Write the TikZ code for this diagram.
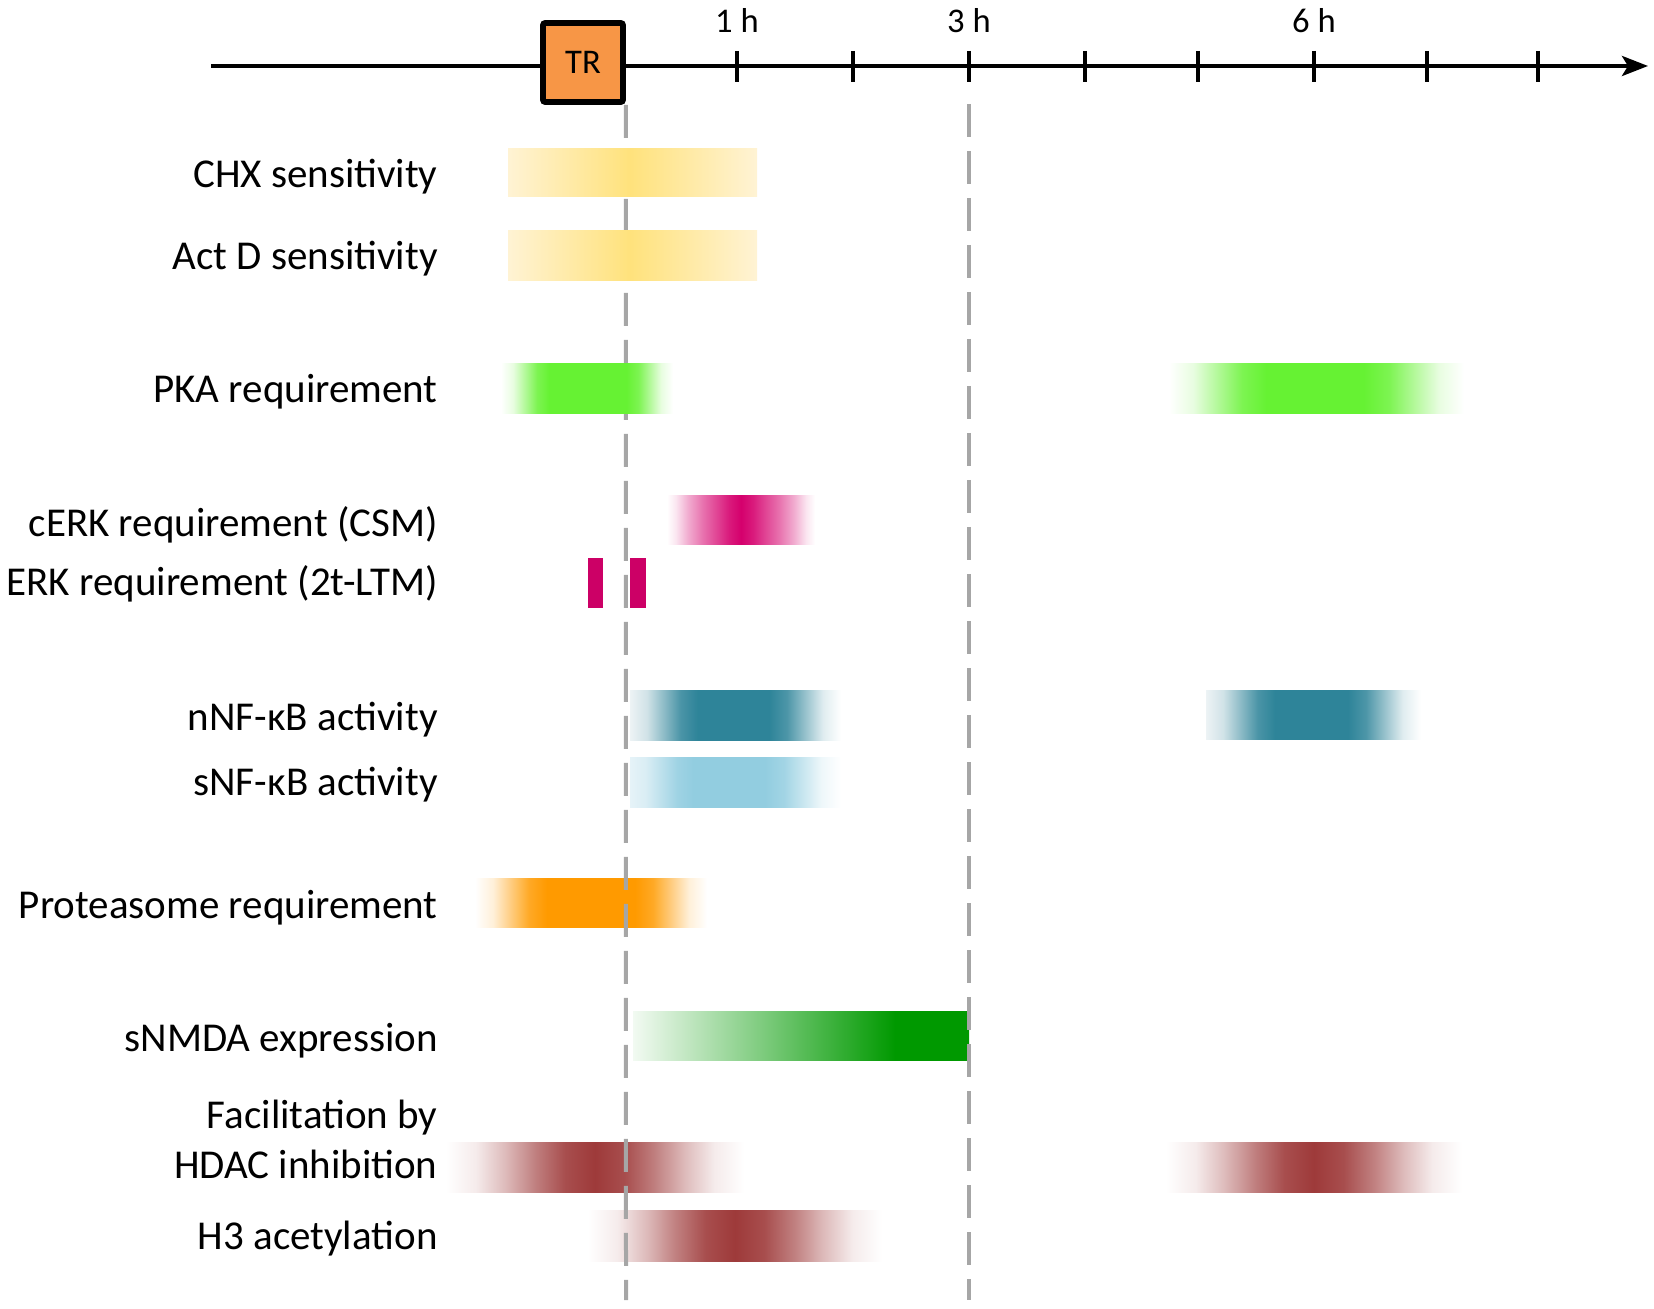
\documentclass[tikz,border=0pt]{standalone}
\usepackage{fontspec}
\setmainfont{Carlito}
\usetikzlibrary{arrows.meta}

\definecolor{chxE}{HTML}{FFF3D4}
\definecolor{chxC}{HTML}{FFE27C}
\definecolor{pkaG}{HTML}{66F233}
\definecolor{erkC}{HTML}{D5006D}
\definecolor{erkBar}{HTML}{CC0066}
\definecolor{nnfC}{HTML}{2E8499}
\definecolor{nnfE}{HTML}{EDF3F5}
\definecolor{snfC}{HTML}{92CDE0}
\definecolor{snfE}{HTML}{E6F3F8}
\definecolor{protC}{HTML}{FF9A00}
\definecolor{smC}{HTML}{009900}
\definecolor{smE}{HTML}{F2FAF2}
\definecolor{hdC}{HTML}{9E3A3A}
\definecolor{trFill}{HTML}{F79646}
\definecolor{dashGray}{HTML}{A6A6A6}

% intermediate mixes for smooth fades
\colorlet{pkaA}{pkaG!15!white}\colorlet{pkaB}{pkaG!50!white}\colorlet{pkaC}{pkaG!85!white}
\colorlet{prA}{protC!15!white}\colorlet{prB}{protC!50!white}\colorlet{prC}{protC!85!white}
\colorlet{nnA}{nnfC!15!nnfE}\colorlet{nnB}{nnfC!50!nnfE}\colorlet{nnC}{nnfC!85!nnfE}
\colorlet{nwA}{nnfC!15!white}\colorlet{nwB}{nnfC!50!white}\colorlet{nwC}{nnfC!85!white}
\colorlet{snA}{snfC!15!snfE}\colorlet{snB}{snfC!50!snfE}\colorlet{snC}{snfC!85!snfE}
\colorlet{swA}{snfC!15!white}\colorlet{swB}{snfC!50!white}\colorlet{swC}{snfC!85!white}
\colorlet{hdA}{hdC!10!white}\colorlet{hdB}{hdC!35!white}\colorlet{hdD}{hdC!65!white}\colorlet{hdE}{hdC!90!white}
\colorlet{ekA}{erkC!10!white}\colorlet{ekB}{erkC!32!white}\colorlet{ekD}{erkC!55!white}\colorlet{ekE}{erkC!74!white}\colorlet{ekF}{erkC!90!white}
\colorlet{smB}{smC!50!smE}

\pgfdeclarehorizontalshading{chxsh}{100bp}{color(0bp)=(chxE); color(25bp)=(chxE); color(49.5bp)=(chxC); color(75bp)=(chxE); color(100bp)=(chxE)}
\pgfdeclarehorizontalshading{pkalsh}{100bp}{color(0bp)=(white); color(25bp)=(white); color(28.5bp)=(pkaA); color(32bp)=(pkaB); color(35.5bp)=(pkaC); color(39bp)=(pkaG); color(61.5bp)=(pkaG); color(64.9bp)=(pkaC); color(68.25bp)=(pkaB); color(71.6bp)=(pkaA); color(75bp)=(white); color(100bp)=(white)}
\pgfdeclarehorizontalshading{pkarsh}{100bp}{color(0bp)=(white); color(25bp)=(white); color(29.1bp)=(pkaA); color(33.25bp)=(pkaB); color(37.4bp)=(pkaC); color(41.5bp)=(pkaG); color(58bp)=(pkaG); color(62.25bp)=(pkaC); color(66.5bp)=(pkaB); color(70.75bp)=(pkaA); color(75bp)=(white); color(100bp)=(white)}
\pgfdeclarehorizontalshading{cerksh}{100bp}{color(0bp)=(white); color(25bp)=(white); color(28bp)=(ekA); color(32bp)=(ekB); color(37bp)=(ekD); color(42bp)=(ekE); color(46bp)=(ekF); color(50bp)=(erkC); color(54bp)=(ekF); color(58bp)=(ekE); color(63bp)=(ekD); color(68bp)=(ekB); color(72bp)=(ekA); color(75bp)=(white); color(100bp)=(white)}
\pgfdeclarehorizontalshading{nnfsh}{100bp}{color(0bp)=(nnfE); color(25bp)=(nnfE); color(29bp)=(nnA); color(33bp)=(nnB); color(37bp)=(nnC); color(41bp)=(nnfC); color(58bp)=(nnfC); color(62.25bp)=(nwC); color(66.5bp)=(nwB); color(70.75bp)=(nwA); color(75bp)=(white); color(100bp)=(white)}
\pgfdeclarehorizontalshading{snfsh}{100bp}{color(0bp)=(snfE); color(25bp)=(snfE); color(28.75bp)=(snA); color(32.5bp)=(snB); color(36.25bp)=(snC); color(40bp)=(snfC); color(57bp)=(snfC); color(61.5bp)=(swC); color(66bp)=(swB); color(70.5bp)=(swA); color(75bp)=(white); color(100bp)=(white)}
\pgfdeclarehorizontalshading{protsh}{100bp}{color(0bp)=(white); color(25bp)=(white); color(28.9bp)=(prA); color(32.75bp)=(prB); color(36.6bp)=(prC); color(40.5bp)=(protC); color(59.5bp)=(protC); color(63.4bp)=(prC); color(67.25bp)=(prB); color(71.1bp)=(prA); color(75bp)=(white); color(100bp)=(white)}
\pgfdeclarehorizontalshading{smsh}{100bp}{color(0bp)=(smE); color(25bp)=(smE); color(45bp)=(smB); color(64bp)=(smC); color(75bp)=(smC); color(100bp)=(smC)}
\pgfdeclarehorizontalshading{hdsh}{100bp}{color(0bp)=(white); color(25bp)=(white); color(30bp)=(hdA); color(35bp)=(hdB); color(40bp)=(hdD); color(45bp)=(hdE); color(50bp)=(hdC); color(55bp)=(hdE); color(60bp)=(hdD); color(65bp)=(hdB); color(70bp)=(hdA); color(75bp)=(white); color(100bp)=(white)}

\begin{document}
\begin{tikzpicture}[x=0.5pt,y=-0.5pt,
  lab/.style={anchor=base east,inner sep=0pt,font=\fontsize{20.5pt}{24pt}\selectfont},
  hour/.style={anchor=base,inner sep=0pt,font=\fontsize{17.3pt}{20pt}\selectfont},
  axisline/.style={line width=2pt,-{Stealth[length=13pt,width=10pt,inset=3pt]}},
  tickmark/.style={line width=2pt},
  trbox/.style={draw=black,line width=2.8pt,fill=trFill,rounded corners=1pt,minimum width=40pt,minimum height=39.5pt,inner sep=0pt,font=\fontsize{17.3pt}{20pt}\selectfont},
  dashline/.style={draw=dashGray,line width=2pt,dash pattern=on 16.5pt off 7pt},
  erkrect/.style={fill=erkBar,draw=none}
]
\useasboundingbox (0,0) rectangle (1654,1309);

% time axis
\coordinate (axL) at (211,66);
\coordinate (axR) at (1648,66);
\draw[axisline] (axL) -- (axR);
\foreach \x in {737,853,969,1085,1198,1314,1427,1538}
  \draw[tickmark] (\x,51) -- (\x,82);
\node[trbox] (tr) at (583,62.5) {TR};
\node[hour] (h1) at (737,33) {1 h};
\node[hour] (h3) at (969,33) {3 h};
\node[hour] (h6) at (1314,33) {6 h};

% bars below the dashed lines' layer
\shade[shading=cerksh] (667,496) rectangle (815,545);
\fill[erkrect] (588,558) rectangle (603,608);
\fill[erkrect] (630,558) rectangle (646,608);
\shade[shading=nnfsh] (630,691) rectangle (841,741);
\shade[shading=nnfsh] (1206,691) rectangle (1421,740);
\shade[shading=snfsh] (630,757) rectangle (841,807);
\shade[shading=protsh] (475,878) rectangle (707,927);
\shade[shading=pkarsh] (1169,364) rectangle (1464,414);
\shade[shading=smsh] (633,1011) rectangle (969,1060);
\shade[shading=hdsh] (446,1142) rectangle (744,1192);
\shade[shading=hdsh] (1166,1142) rectangle (1462,1192);
\shade[shading=hdsh] (588,1210) rectangle (882,1261);

% dashed guide lines
\coordinate (zeroEnd) at (626,1300);
\coordinate (threeTop) at (969,104);
\coordinate (threeEnd) at (969,1300);
\draw[dashline] (tr.south east) -- (zeroEnd);
\draw[dashline] (threeTop) -- (threeEnd);

% bars covering the zero line
\shade[shading=chxsh] (508,149) rectangle (757,197);
\shade[shading=chxsh] (508,231) rectangle (757,281);
\shade[shading=pkalsh] (501,364) rectangle (673,414);

% labels
\node[lab] (lchx) at (438,188) {CHX sensitivity};
\node[lab] (lactd) at (438,270) {Act D sensitivity};
\node[lab] (lpka) at (438,403) {PKA requirement};
\node[lab] (lcerk) at (438,537) {cERK requirement (CSM)};
\node[lab] (lerk) at (438,596) {ERK requirement (2t-LTM)};
\node[lab] (lnnf) at (438,731) {nNF-κB activity};
\node[lab] (lsnf) at (438,795) {sNF-κB activity};
\node[lab] (lprot) at (438,918) {Proteasome requirement};
\node[lab] (lsnmda) at (438,1051) {sNMDA expression};
\node[lab] (lfac) at (438,1128) {Facilitation by};
\node[lab] (lhdac) at (438,1178) {HDAC inhibition};
\node[lab] (lh3) at (438,1249) {H3 acetylation};
\end{tikzpicture}
\end{document}
